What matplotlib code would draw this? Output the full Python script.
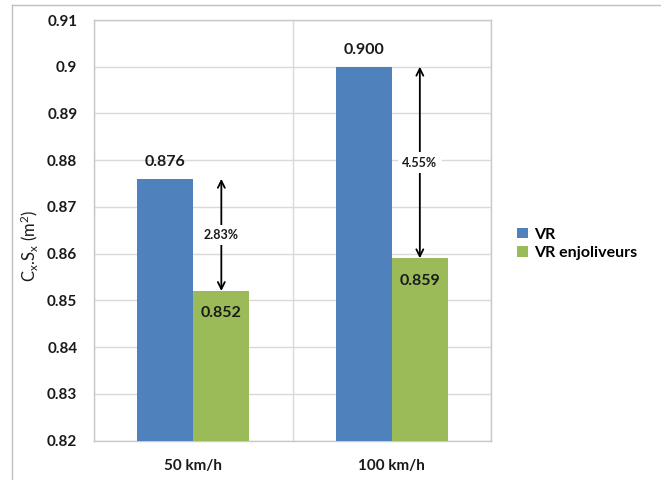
import matplotlib
matplotlib.use("Agg")
import matplotlib.pyplot as plt
from matplotlib.lines import Line2D
from matplotlib.ticker import FuncFormatter
import numpy as np

# Data
categories = ["50 km/h", "100 km/h"]
series_names = ["VR", "VR enjoliveurs"]
vr_values = [0.876, 0.900]
enjoliveurs_values = [0.852, 0.859]
gain_labels = ["2.83%", "4.55%"]
y_ticks = [0.82, 0.83, 0.84, 0.85, 0.86, 0.87, 0.88, 0.89, 0.90, 0.91]

blue = "#4f81bd"
green = "#9bbb59"
grid_col = "#d9d9d9"
font = ["Lato", "DejaVu Sans"]

plt.rcParams["font.family"] = font
plt.rcParams["mathtext.default"] = "regular"

fig = plt.figure(figsize=(6.61, 4.80), dpi=100)
ax = fig.add_axes([94 / 661, 1 - 440.5 / 480, (491 - 94) / 661, (440.5 - 20) / 480])

x = np.arange(len(categories))
w = 0.283
b1 = ax.bar(x - w / 2, vr_values, w, color=blue, label=series_names[0], zorder=3)
b2 = ax.bar(x + w / 2, enjoliveurs_values, w, color=green, label=series_names[1], zorder=3)

ax.set_xlim(-0.5, len(categories) - 0.5)
ax.set_ylim(y_ticks[0], y_ticks[-1])
ax.set_yticks(y_ticks)
ax.yaxis.set_major_formatter(FuncFormatter(lambda v, p: f"{v:.2f}".rstrip("0")))
ax.set_xticks(x)
ax.set_xticklabels(categories)
ax.set_xticks(np.arange(len(categories) + 1) - 0.5, minor=True)
ax.tick_params(axis="both", which="both", length=0, labelsize=11)
ax.tick_params(axis="y", pad=12)
ax.tick_params(axis="x", pad=13)
for lbl in ax.get_xticklabels() + ax.get_yticklabels():
    lbl.set_fontweight("bold")
    lbl.set_color("#1a1a1a")

ax.grid(axis="y", which="major", color=grid_col, lw=1, zorder=0)
ax.grid(axis="x", which="minor", color=grid_col, lw=1, zorder=0)
for s in ax.spines.values():
    s.set_color("#c8c8c8")
    s.set_linewidth(1)

ax.set_ylabel("C$_x$.S$_x$ (m$^2$)", fontsize=12, color="#1a1a1a")
ax.yaxis.set_label_coords(-0.136, 0.4625)

# Value labels
for xi, v in zip(x - w / 2, vr_values):
    ax.annotate(f"{v:.3f}", (xi, v), xytext=(0, 12), textcoords="offset points",
                ha="center", va="center", fontsize=11.5, fontweight="bold", color="#1a1a1a")
for xi, v in zip(x + w / 2, enjoliveurs_values):
    ax.annotate(f"{v:.3f}", (xi, v), xytext=(0, -16), textcoords="offset points",
                ha="center", va="center", fontsize=11.5, fontweight="bold", color="#1a1a1a")

# Difference arrows
for xi, top, bot, txt in zip(x + w / 2, vr_values, enjoliveurs_values, gain_labels):
    ax.annotate("", xy=(xi, top), xytext=(xi, bot),
                arrowprops=dict(arrowstyle="<->,head_length=0.5,head_width=0.25",
                                color="black", lw=1.3, shrinkA=0, shrinkB=0), zorder=4)
    ax.text(xi, (top + bot) / 2, txt, ha="center", va="center", fontsize=9,
            fontweight="bold", color="#1a1a1a", zorder=5,
            bbox=dict(facecolor="white", edgecolor="none", pad=3))

fig.legend(handles=[b1, b2], labels=series_names, loc="center left",
           bbox_to_anchor=(503 / 661, 1 - 244 / 480), frameon=False,
           handlelength=0.65, handleheight=0.65, handletextpad=0.4,
           labelspacing=0.3, prop=dict(family=font, weight="bold", size=11.5))

# Chart area border (left and top edges)
fig.add_artist(Line2D([11.5 / 661, 11.5 / 661], [0, 1 - 4.5 / 480],
                      transform=fig.transFigure, color="#bfbfbf", lw=1))
fig.add_artist(Line2D([11.5 / 661, 1], [1 - 4.5 / 480, 1 - 4.5 / 480],
                      transform=fig.transFigure, color="#bfbfbf", lw=1))

fig.savefig("out.png", dpi=100)
